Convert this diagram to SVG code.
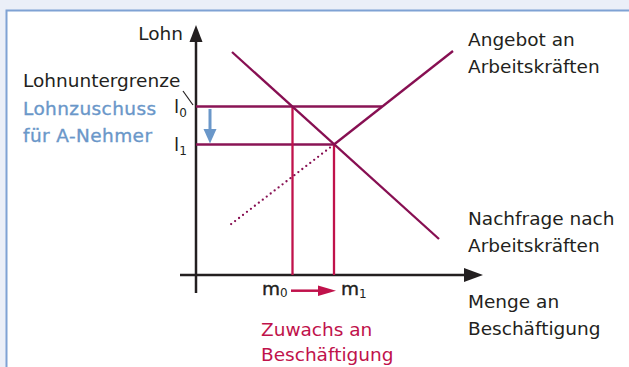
<svg xmlns="http://www.w3.org/2000/svg" width="629" height="367" viewBox="0 0 629 367">
<style>
  text { font-family: "DejaVu Sans", "Liberation Sans", sans-serif; font-size: 18.5px; fill: #231f20; }
  .blue { fill: #6a97c9; stroke: #6a97c9; stroke-width: 0.35; letter-spacing: 0.4px; }
  .red { fill: #c0124b; }
  .m { stroke: #231f20; stroke-width: 0.4; }
  .sub { font-size: 12px; stroke-width: 0; }
  .curve { stroke: #870f52; stroke-width: 2.3; fill: none; }
  .lvl { stroke: #8a1455; stroke-width: 2.3; fill: none; }
  .vert { stroke: #c0124b; stroke-width: 2.3; fill: none; }
  .axis { stroke: #231f20; stroke-width: 2.5; fill: none; }
</style>
<rect x="0" y="0" width="629" height="367" fill="#ebeff8"/>
<rect x="6.5" y="10.5" width="640" height="400" fill="#ffffff" stroke="#7fa2d4" stroke-width="2"/>

<g id="axes">
  <line class="axis" x1="196" y1="40" x2="196" y2="293"/>
  <polygon points="196,25 189.5,42 202.5,42" fill="#231f20"/>
  <line class="axis" x1="180" y1="275" x2="466" y2="275"/>
  <polygon points="483,275 464,268 464,282" fill="#231f20"/>
  <text x="183" y="40" text-anchor="end">Lohn</text>
</g>

<g id="connectors">
  <line class="lvl" x1="196" y1="106.5" x2="382" y2="106.5"/>
  <line class="lvl" x1="196" y1="144.5" x2="334" y2="144.5"/>
  <line class="vert" x1="292.5" y1="106.5" x2="292.5" y2="275"/>
  <line class="vert" x1="334" y1="144.5" x2="334" y2="275"/>
  <line class="curve" x1="232" y1="52" x2="439" y2="239"/>
  <line class="curve" x1="334" y1="144.5" x2="453" y2="51"/>
  <line class="curve" x1="330" y1="147.6" x2="230" y2="225" stroke-dasharray="0 5" stroke-linecap="round" stroke-width="2.6"/>
  <line x1="183" y1="91" x2="193" y2="105" stroke="#231f20" stroke-width="1.2"/>
  <line x1="210" y1="109" x2="210" y2="131" stroke="#6a97c9" stroke-width="3"/>
  <polygon points="203.5,129 216.5,129 210,143.5" fill="#6a97c9"/>
  <line x1="291" y1="290.7" x2="320" y2="290.7" stroke="#c0124b" stroke-width="2.5"/>
  <polygon points="336,290.7 318,285.5 318,296" fill="#c0124b"/>
</g>

<g id="labels-left">
  <text x="23" y="87">Lohnuntergrenze</text>
  <text x="23" y="115" class="blue">Lohnzuschuss</text>
  <text x="23" y="142" class="blue">für A-Nehmer</text>
  <text x="174" y="113">l<tspan class="sub" dy="4">0</tspan></text>
  <text x="174" y="151">l<tspan class="sub" dy="4">1</tspan></text>
</g>

<g id="labels-bottom">
  <text x="262" y="295" class="m">m<tspan class="sub" dy="2">0</tspan></text>
  <text x="341" y="295" class="m">m<tspan class="sub" dy="3">1</tspan></text>
  <text x="261" y="336" class="red">Zuwachs an</text>
  <text x="261" y="361" class="red">Beschäftigung</text>
</g>

<g id="labels-right">
  <text x="468" y="46">Angebot an</text>
  <text x="468" y="73">Arbeitskräften</text>
  <text x="468" y="225">Nachfrage nach</text>
  <text x="468" y="252">Arbeitskräften</text>
  <text x="468" y="308">Menge an</text>
  <text x="468" y="335">Beschäftigung</text>
</g>
</svg>
